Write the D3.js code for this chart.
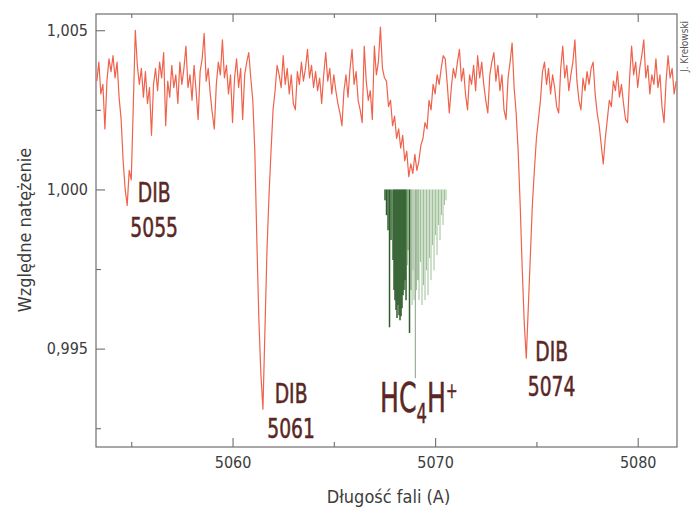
<!DOCTYPE html>
<html>
<head>
<meta charset="utf-8">
<script src="https://cdn.jsdelivr.net/npm/d3@7"></script>
<style>
  body { margin: 0; background: #ffffff; }
  text { font-family: "DejaVu Sans Condensed", "Liberation Sans", sans-serif; }
</style>
</head>
<body>
<div id="chart"></div>
<script>
// observed spectrum (relative intensity), sampled every 0.1 A from 5053.3 A
const wlStart = 5053.3;
const wlStep = 0.1;
const flux = [
  1.0034, 1.0040, 1.0030, 1.0033, 1.0019, 1.0034, 1.0041, 1.0037, 1.0042, 1.0035,
  1.0040, 1.0029, 1.0022, 1.0009, 1.0000, 0.9995, 1.0006, 1.0003, 1.0026, 1.0050,
  1.0039, 1.0033, 1.0038, 1.0029, 1.0037, 1.0027, 1.0032, 1.0017, 1.0033, 1.0038,
  1.0031, 1.0040, 1.0035, 1.0043, 1.0020, 1.0034, 1.0029, 1.0039, 1.0032, 1.0036,
  1.0027, 1.0040, 1.0033, 1.0038, 1.0045, 1.0032, 1.0036, 1.0028, 1.0039, 1.0031,
  1.0022, 1.0037, 1.0041, 1.0049, 1.0034, 1.0038, 1.0030, 1.0024, 1.0019, 1.0033,
  1.0040, 1.0036, 1.0047, 1.0035, 1.0039, 1.0030, 1.0036, 1.0021, 1.0035, 1.0041,
  1.0032, 1.0038, 1.0022, 1.0036, 1.0040, 1.0043, 1.0035, 1.0028, 1.0012, 0.9984,
  0.9959, 0.9942, 0.9931, 0.9956, 0.9981, 0.9998, 1.0012, 1.0025, 1.0031, 1.0039,
  1.0036, 1.0032, 1.0042, 1.0033, 1.0038, 1.0030, 1.0036, 1.0027, 1.0025, 1.0037,
  1.0033, 1.0040, 1.0034, 1.0038, 1.0044, 1.0035, 1.0039, 1.0032, 1.0037, 1.0031,
  1.0035, 1.0027, 1.0036, 1.0043, 1.0034, 1.0038, 1.0030, 1.0036, 1.0031, 1.0027,
  1.0024, 1.0020, 1.0031, 1.0036, 1.0029, 1.0038, 1.0044, 1.0033, 1.0037, 1.0028,
  1.0025, 1.0021, 1.0045, 1.0034, 1.0028, 1.0031, 1.0022, 1.0045, 1.0036, 1.0040,
  1.0051, 1.0038, 1.0035, 1.0034, 1.0026, 1.0028, 1.0020, 1.0023, 1.0016, 1.0019,
  1.0013, 1.0017, 1.0009, 1.0012, 1.0004, 1.0008, 1.0005, 1.0011, 1.0006, 1.0009,
  1.0014, 1.0016, 1.0021, 1.0019, 1.0028, 1.0025, 1.0033, 1.0030, 1.0036, 1.0033,
  1.0038, 1.0042, 1.0041, 1.0033, 1.0024, 1.0032, 1.0038, 1.0035, 1.0040, 1.0044,
  1.0034, 1.0038, 1.0030, 1.0025, 1.0036, 1.0033, 1.0039, 1.0031, 1.0042, 1.0035,
  1.0040, 1.0033, 1.0028, 1.0024, 1.0036, 1.0040, 1.0043, 1.0034, 1.0039, 1.0031,
  1.0036, 1.0025, 1.0022, 1.0035, 1.0040, 1.0046, 1.0032, 1.0024, 1.0012, 0.9995,
  0.9975, 0.9958, 0.9947, 0.9963, 0.9979, 0.9995, 1.0006, 1.0016, 1.0022, 1.0028,
  1.0037, 1.0040, 1.0033, 1.0038, 1.0030, 1.0036, 1.0032, 1.0026, 1.0024, 1.0038,
  1.0045, 1.0035, 1.0039, 1.0031, 1.0036, 1.0040, 1.0047, 1.0034, 1.0028, 1.0025,
  1.0035, 1.0031, 1.0037, 1.0033, 1.0038, 1.0040, 1.0030, 1.0024, 1.0020, 1.0014,
  1.0008, 1.0016, 1.0022, 1.0028, 1.0026, 1.0034, 1.0031, 1.0037, 1.0029, 1.0033,
  1.0027, 1.0022, 1.0021, 1.0035, 1.0045, 1.0036, 1.0040, 1.0032, 1.0038, 1.0042,
  1.0047, 1.0035, 1.0039, 1.0030, 1.0036, 1.0033, 1.0041, 1.0032, 1.0036, 1.0026,
  1.0021, 1.0034, 1.0042, 1.0035, 1.0038, 1.0030, 1.0034
];

// HC4H+ model lines (wavelength, depth reached, shade 0 dark .. 3 grey)
const hcWave = [
  5067.527, 5067.601, 5067.675, 5067.749, 5067.823, 5067.922, 5067.971, 5068.020,
  5068.070, 5068.119, 5068.169, 5068.218, 5068.267, 5068.317, 5068.366, 5068.416,
  5068.465, 5068.514, 5068.564, 5068.613, 5068.662, 5068.736, 5068.811, 5068.860,
  5068.909, 5068.959, 5069.023, 5069.082, 5069.156, 5069.205, 5069.279, 5069.353,
  5069.427, 5069.501, 5069.576, 5069.650, 5069.724, 5069.798, 5069.872, 5069.946,
  5070.020, 5070.094, 5070.168, 5070.242, 5070.316, 5070.390, 5070.464, 5070.538
];
const hcDepth = [
  0.99966, 0.99919, 0.99872, 0.99567, 0.99841, 0.99778, 0.99684, 0.99652,
  0.99621, 0.99596, 0.99637, 0.99605, 0.99589, 0.99602, 0.99627, 0.99668,
  0.99684, 0.99715, 0.99652, 0.99762, 0.99809, 0.99549, 0.99684, 0.99637,
  0.99746, 0.99652, 0.99407, 0.99684, 0.99715, 0.99652, 0.99772, 0.99637,
  0.99699, 0.99652, 0.99746, 0.99668, 0.99784, 0.99715, 0.99825, 0.99746,
  0.99856, 0.99794, 0.99888, 0.99841, 0.99919, 0.99888, 0.99951, 0.99966
];
const hcShade = [
  0, 0, 0, 0, 0, 0, 0, 0,
  0, 0, 0, 0, 0, 0, 0, 0,
  0, 0, 0, 1, 1, 0, 1, 2,
  2, 2, 3, 2, 1, 2, 2, 2,
  2, 2, 2, 2, 2, 2, 2, 2,
  2, 2, 2, 2, 2, 2, 2, 2
];
const hcTop = 1.0000;

// axis ticks
const xMajorTicks = [5060, 5070, 5080];
const xMinorTicks = [5055, 5065, 5075];
const yMajorTicks = [0.995, 1.000, 1.005];
const yMinorTicks = [0.9925, 0.9975, 1.0025];

// DIB annotations
const dibNames = ["5055", "5061", "5074"];
const dibLabelWave = [5056.13, 5062.89, 5075.75];
const dibLabelFlux = [0.99960, 0.99329, 0.99461];

const win_width = 692, win_height = 510;
const margin = {top: 14, right: 15, bottom: 63, left: 96};
const width = win_width - margin.left - margin.right;
const height = win_height - margin.top - margin.bottom;

const svg = d3.select("#chart").append("svg")
    .attr("width", win_width)
    .attr("height", win_height);

const g = svg.append("g")
    .attr("transform", "translate(" + margin.left + "," + margin.top + ")");

const x = d3.scaleLinear().domain([5053.26, 5081.94]).range([0, width]);
const y = d3.scaleLinear().domain([0.99191, 1.00551]).range([height, 0]);

const pl = d3.formatLocale({decimal: ",", thousands: " ", grouping: [3], currency: ["", ""]});
const yFmt = pl.format(".3f");

const axisColor = "#6e6e6e";
const textColor = "#3c3c3c";

function styleAxis(sel) {
    sel.select(".domain").remove();
    sel.selectAll(".tick line").attr("stroke", axisColor).attr("stroke-width", 1.1);
    sel.selectAll(".tick text").attr("fill", textColor).style("font-size", "16px");
}

// left axis: major + minor, ticks pointing inward
g.append("g")
    .call(d3.axisLeft(y).tickValues(yMajorTicks).tickSize(-9).tickPadding(8).tickFormat(yFmt))
    .call(styleAxis);
g.append("g")
    .call(d3.axisLeft(y).tickValues(yMinorTicks).tickSize(-5).tickFormat(""))
    .call(styleAxis);

// bottom axis
g.append("g")
    .attr("transform", "translate(0," + height + ")")
    .call(d3.axisBottom(x).tickValues(xMajorTicks).tickSize(-9).tickPadding(10).tickFormat(d3.format("d")))
    .call(styleAxis);
g.append("g")
    .attr("transform", "translate(0," + height + ")")
    .call(d3.axisBottom(x).tickValues(xMinorTicks).tickSize(-5).tickFormat(""))
    .call(styleAxis);

// top axis, ticks only
g.append("g")
    .call(d3.axisTop(x).tickValues(xMajorTicks).tickSize(-8).tickFormat(""))
    .call(styleAxis);
g.append("g")
    .call(d3.axisTop(x).tickValues(xMinorTicks).tickSize(-4).tickFormat(""))
    .call(styleAxis);

// frame
g.append("rect")
    .attr("width", width)
    .attr("height", height)
    .attr("fill", "none")
    .attr("stroke", axisColor)
    .attr("stroke-width", 1.2);

// observed spectrum
const spec = flux.map((f, i) => ({w: wlStart + i * wlStep, f: f}));
g.append("path")
    .datum(spec)
    .attr("fill", "none")
    .attr("stroke", "#ef624c")
    .attr("stroke-width", 1.2)
    .attr("stroke-linejoin", "round")
    .attr("d", d3.line().x(d => x(d.w)).y(d => y(d.f)));

// HC4H+ lines
const shadeColors = ["#2f5e2c", "#5a8a53", "#9fc098", "#86a284"];
g.selectAll(".hcline")
    .data(hcWave)
    .enter()
    .append("line")
    .attr("class", "hcline")
    .attr("x1", d => x(d))
    .attr("x2", d => x(d))
    .attr("y1", y(hcTop))
    .attr("y2", (d, i) => y(hcDepth[i]))
    .attr("stroke", (d, i) => shadeColors[hcShade[i]])
    .attr("stroke-width", (d, i) => hcShade[i] === 0 ? 1.5 : 1);

// DIB labels
const labelColor = "#5a2724";
dibNames.forEach(function(name, i) {
    const lx = x(dibLabelWave[i]);
    const ly = y(dibLabelFlux[i]);
    const lab = g.append("g")
        .attr("transform", "translate(" + lx + "," + ly + ") scale(0.8,1)")
        .attr("fill", labelColor)
        .attr("stroke", labelColor)
        .attr("stroke-width", 0.5)
        .style("font-size", "26px")
        .attr("text-anchor", "middle");
    lab.append("text").attr("y", 0).text("DIB");
    lab.append("text").attr("y", 35).text(name);
});

// HC4H+ label
const hc = g.append("text")
    .attr("transform", "translate(" + x(5067.28) + "," + y(0.99301) + ") scale(0.7,1)")
    .attr("fill", labelColor)
    .attr("stroke", labelColor)
    .attr("stroke-width", 0.5)
    .style("font-size", "40px");
hc.append("tspan").text("HC");
hc.append("tspan").attr("dy", 11).style("font-size", "26px").text("4");
hc.append("tspan").attr("dy", -11).text("H");
hc.append("tspan").attr("dy", -14).style("font-size", "22px").text("+");

// axis titles
svg.append("text")
    .attr("transform", "translate(31,230) rotate(-90)")
    .attr("text-anchor", "middle")
    .attr("fill", textColor)
    .style("font-size", "18px")
    .text("Względne natężenie");

svg.append("text")
    .attr("x", margin.left + x(5067.7))
    .attr("y", 503)
    .attr("text-anchor", "middle")
    .attr("fill", textColor)
    .style("font-size", "18px")
    .text("Długość fali (A)");

// credit
svg.append("text")
    .attr("transform", "translate(688,72) rotate(-90)")
    .attr("fill", "#555")
    .style("font-size", "10px")
    .text("J. Krełowski");
</script>
</body>
</html>
